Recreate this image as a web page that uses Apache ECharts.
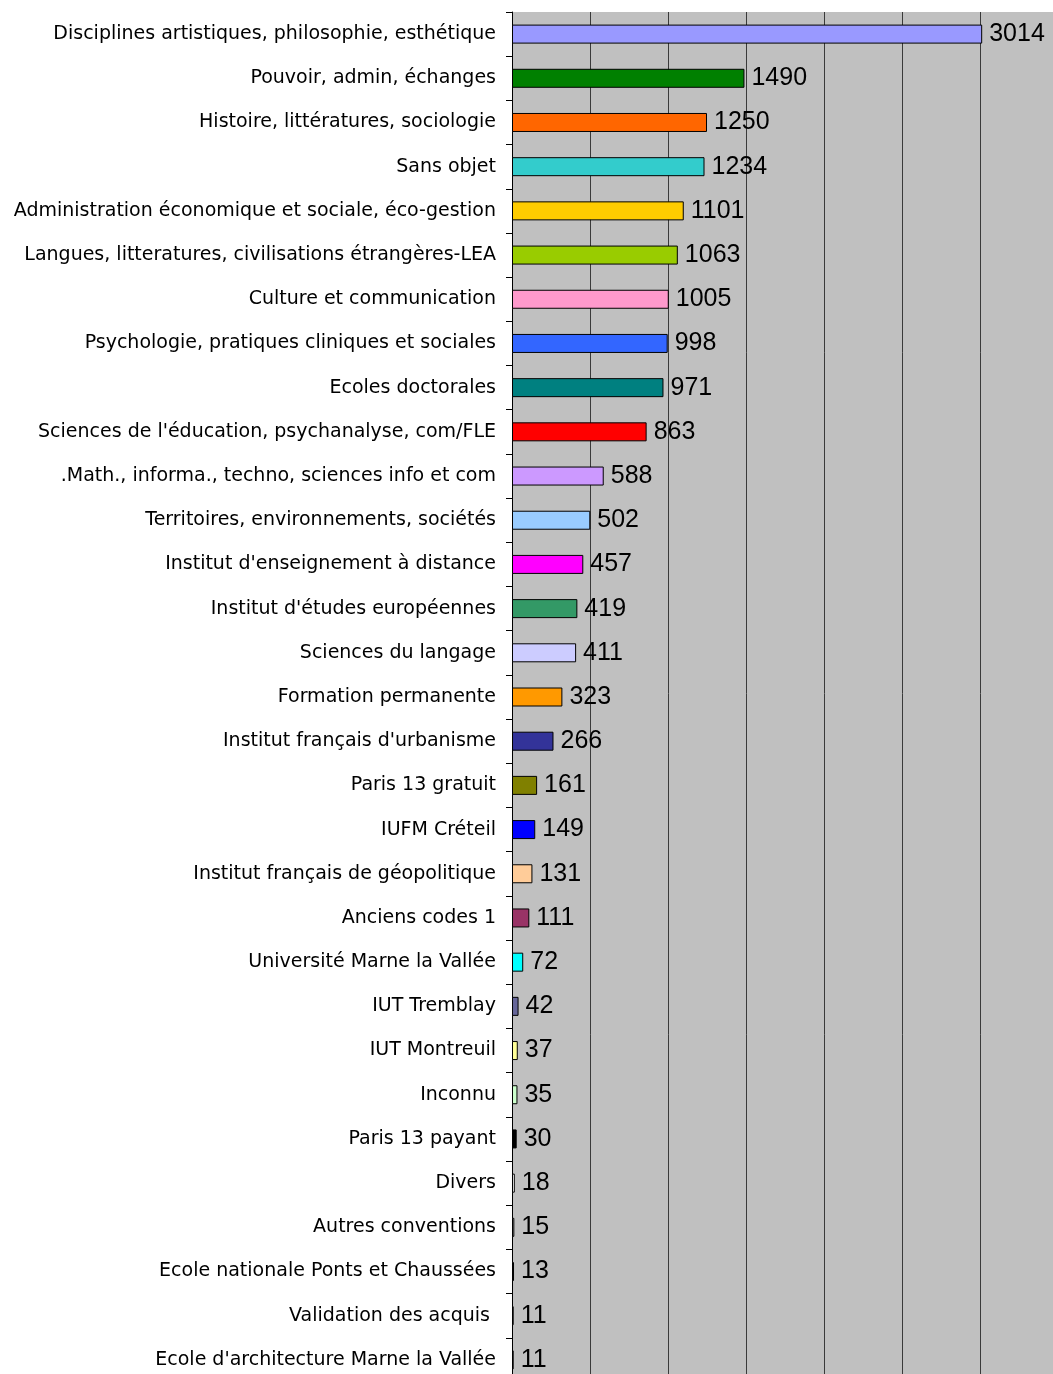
<!DOCTYPE html>
<html>
<head>
<meta charset="utf-8">
<script src="https://cdn.jsdelivr.net/npm/echarts@6/dist/echarts.min.js"></script>
<style>
  html, body { margin: 0; padding: 0; background: #fff; }
  #myChart { width: 1053px; height: 1374px; }
</style>
</head>
<body>
<div id="myChart"></div>
<script>
// categories, top to bottom
var categories = [
  "Disciplines artistiques, philosophie, esthétique",
  "Pouvoir, admin, échanges",
  "Histoire, littératures, sociologie",
  "Sans objet",
  "Administration économique et sociale, éco-gestion",
  "Langues, litteratures, civilisations étrangères-LEA",
  "Culture et communication",
  "Psychologie, pratiques cliniques et sociales",
  "Ecoles doctorales",
  "Sciences de l'éducation, psychanalyse, com/FLE",
  ".Math., informa., techno, sciences info et com",
  "Territoires, environnements, sociétés",
  "Institut d'enseignement à distance",
  "Institut d'études européennes",
  "Sciences du langage",
  "Formation permanente",
  "Institut français d'urbanisme",
  "Paris 13 gratuit",
  "IUFM Créteil",
  "Institut français de géopolitique",
  "Anciens codes 1",
  "Université Marne la Vallée",
  "IUT Tremblay",
  "IUT Montreuil",
  "Inconnu",
  "Paris 13 payant",
  "Divers",
  "Autres conventions",
  "Ecole nationale Ponts et Chaussées",
  "Validation des acquis ",
  "Ecole d'architecture Marne la Vallée"
];

var values = [3014, 1490, 1250, 1234, 1101, 1063, 1005, 998, 971, 863,
  588, 502, 457, 419, 411, 323, 266, 161, 149, 131,
  111, 72, 42, 37, 35, 30, 18, 15, 13, 11, 11];

var colors = [
  "#9999FF", "#008000", "#FF6600", "#33CCCC", "#FFCC00", "#99CC00", "#FF99CC", "#3366FF",
  "#008080", "#FF0000", "#CC99FF", "#99CCFF", "#FF00FF", "#339966", "#CCCCFF", "#FF9900",
  "#333399", "#808000", "#0000FF", "#FFCC99", "#993366", "#00FFFF", "#666699", "#FFFF99",
  "#CCFFCC", "#000000", "#FFFFFF", "#C0C0C0", "#C0C0C0", "#C0C0C0", "#C0C0C0"
];

var xTicks = { min: 0, max: 3500, interval: 500 };

var myChart = echarts.init(document.getElementById('myChart'));
var data = [];
for (var i = 0; i < values.length; i++) {
  data.push({ value: values[i], itemStyle: { color: colors[i] } });
}

myChart.setOption({
  animation: false,
  grid: {
    left: 512,
    top: 12,
    width: 546,
    height: 1370,
    outerBoundsMode: 'none',
    show: true,
    backgroundColor: '#C0C0C0',
    borderWidth: 0
  },
  xAxis: {
    type: 'value',
    min: xTicks.min,
    max: xTicks.max,
    interval: xTicks.interval,
    axisLine: { show: false },
    axisTick: { show: false },
    axisLabel: { show: false },
    splitLine: { show: true, lineStyle: { color: '#3a3a3a', width: 1 } }
  },
  yAxis: {
    type: 'category',
    inverse: true,
    data: categories,
    axisLine: { show: true, lineStyle: { color: '#000', width: 1 } },
    axisTick: { show: true, length: 6, lineStyle: { color: '#000' } },
    axisLabel: {
      margin: 16,
      color: '#000',
      fontSize: 19,
      fontFamily: '"Comic Sans MS", "DejaVu Sans", sans-serif'
    }
  },
  series: [{
    type: 'bar',
    data: data,
    barWidth: 19,
    itemStyle: { borderColor: '#000', borderWidth: 1 },
    label: {
      show: true,
      position: 'right',
      distance: 7,
      color: '#000',
      fontSize: 25,
      fontFamily: '"Liberation Sans", Arial, sans-serif'
    }
  }]
});
window.addEventListener("resize", function () {
  myChart.resize();
});
</script>
</body>
</html>
